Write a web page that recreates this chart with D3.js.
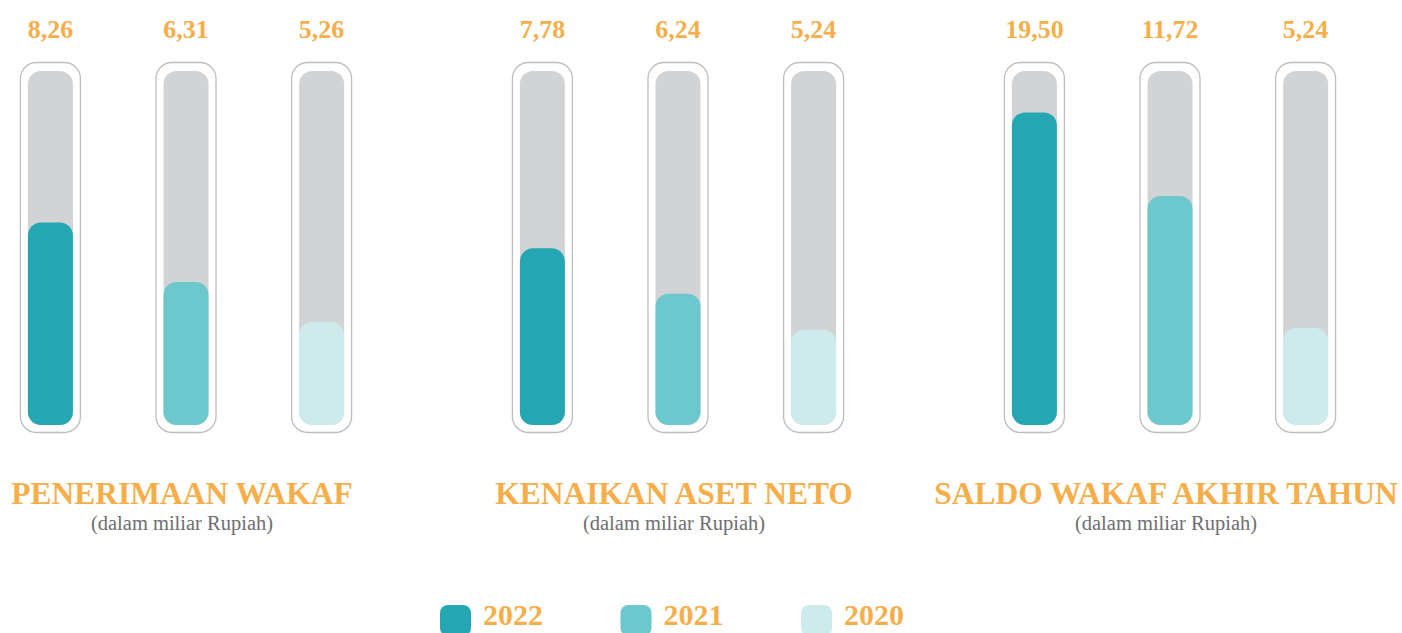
<!DOCTYPE html>
<html>
<head>
<meta charset="utf-8">
<script src="https://cdn.jsdelivr.net/npm/d3@7"></script>
<style>
  body { margin: 0; background: #fff; }
  svg { display: block; font-family: "Liberation Serif", "DejaVu Serif", serif; }
</style>
</head>
<body>
<svg id="chart" width="1402" height="633"></svg>
<script>
// data
var groups = ["PENERIMAAN WAKAF", "KENAIKAN ASET NETO", "SALDO WAKAF AKHIR TAHUN"];
var years = ["2022", "2021", "2020"];
var val2022 = [8.26, 7.78, 19.50];
var val2021 = [6.31, 6.24, 11.72];
var val2020 = [5.26, 5.24, 5.24];
// each panel in the original has its own (log-like) gauge
var gaugeLow = [3.3, 3.3, 2.9];
var gaugeHigh = [16.4, 18.4, 25.1];
var unitLabel = "(dalam miliar Rupiah)";

var colors = ["#25a7b3", "#6cc8cd", "#cdebed"];
var orange = "#f6ae4b";

var svg = d3.select("#chart");

var fmt = d3.formatLocale({decimal: ",", thousands: ".", grouping: [3], currency: ["Rp", ""]}).format(".2f");

var series = [val2022, val2021, val2020];
var rows = groups.map(function(g, gi) {
    return {
        name: g,
        idx: gi,
        bars: years.map(function(y, yi) { return {year: y, yi: yi, value: series[yi][gi]}; })
    };
});

var gx = d3.scalePoint().domain(groups).range([186, 1170]);
var bx = d3.scalePoint().domain(years).range([-135.6, 135.6]);
var color = d3.scaleOrdinal().domain(years).range(colors);

var trackTop = 71, trackBottom = 425;
var outerW = 60, trackW = 45;

var g = svg.selectAll("g.group").data(rows).join("g")
    .attr("class", "group")
    .attr("transform", function(d) { return "translate(" + gx(d.name) + ",0)"; });

g.each(function(row) {
    var y = d3.scaleLog().domain([gaugeLow[row.idx], gaugeHigh[row.idx]]).range([trackBottom, trackTop]);
    var sel = d3.select(this);
    var bar = sel.selectAll("g.bar").data(row.bars).join("g")
        .attr("class", "bar")
        .attr("transform", function(d) { return "translate(" + bx(d.year) + ",0)"; });

    // outer capsule
    bar.append("rect")
        .attr("x", -outerW / 2).attr("y", 62.5)
        .attr("width", outerW).attr("height", 370)
        .attr("rx", 16)
        .attr("fill", "#fff").attr("stroke", "#bdbdbd").attr("stroke-width", 1.3);

    // grey track
    bar.append("rect")
        .attr("x", -trackW / 2).attr("y", trackTop)
        .attr("width", trackW).attr("height", trackBottom - trackTop)
        .attr("rx", 13)
        .attr("fill", "#d1d3d4");

    // value fill
    bar.append("rect")
        .attr("x", -trackW / 2).attr("y", function(d) { return y(d.value); })
        .attr("width", trackW).attr("height", function(d) { return trackBottom - y(d.value); })
        .attr("rx", 13)
        .attr("fill", function(d) { return color(d.year); });

    bar.append("text")
        .attr("y", 37.5)
        .attr("text-anchor", "middle")
        .attr("font-size", 26).attr("font-weight", "bold")
        .attr("fill", orange)
        .text(function(d) { return fmt(d.value); });

    sel.append("text")
        .attr("x", -4).attr("y", 504)
        .attr("text-anchor", "middle")
        .attr("font-size", 31.5).attr("font-weight", "bold")
        .attr("fill", orange)
        .text(row.name);

    sel.append("text")
        .attr("x", -4).attr("y", 530)
        .attr("text-anchor", "middle")
        .attr("font-size", 20.5)
        .attr("fill", "#6d6e70")
        .text(unitLabel);
});

// legend
var lx = d3.scalePoint().domain(years).range([440, 801]);
var leg = svg.selectAll("g.legend").data(years).join("g")
    .attr("class", "legend")
    .attr("transform", function(d) { return "translate(" + lx(d) + ",605)"; });

leg.append("rect")
    .attr("width", 31).attr("height", 31).attr("rx", 8)
    .attr("fill", function(d) { return color(d); });

leg.append("text")
    .attr("x", 43).attr("y", 20)
    .attr("font-size", 30).attr("font-weight", "bold")
    .attr("fill", orange)
    .text(function(d) { return d; });
</script>
</body>
</html>
